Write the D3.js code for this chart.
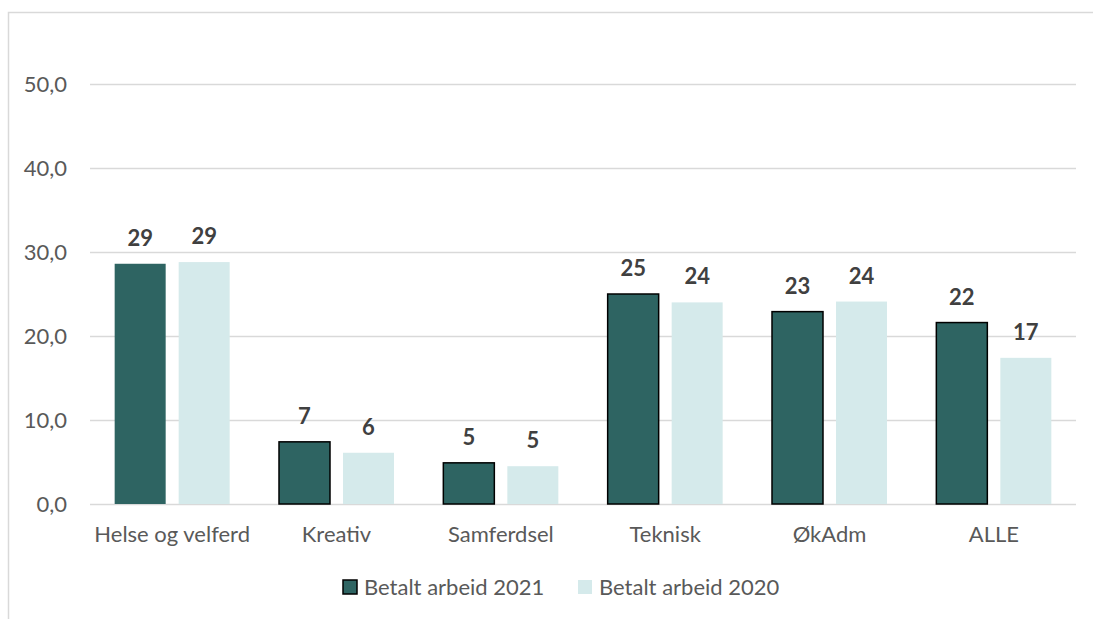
<!DOCTYPE html>
<html>
<head>
<meta charset="utf-8">
<script src="https://cdn.jsdelivr.net/npm/d3@7"></script>
<style>
  html, body { margin: 0; padding: 0; background: #fff; }
  svg { display: block; font-family: Lato, "Liberation Sans", sans-serif; }
</style>
</head>
<body>
<svg id="chart" width="1093" height="619"></svg>
<script>
const categories = ["Helse og velferd", "Kreativ", "Samferdsel", "Teknisk", "ØkAdm", "ALLE"];
const seriesNames = ["Betalt arbeid 2021", "Betalt arbeid 2020"];
const values2021 = [28.6, 7.4, 4.9, 25.0, 22.9, 21.6];
const values2020 = [28.8, 6.1, 4.5, 24.0, 24.1, 17.4];
const yTicks = [0, 10, 20, 30, 40, 50];
const colors = ["#2e6462", "#d5eaeb"];
const strokes = [[false, true, true, true, true, true], [false, false, false, false, false, false]];

const FONT = "Lato, sans-serif";
const FS = 22;

const svg = d3.select("#chart");
const W = 1093, H = 619;
const plot = { left: 90, right: 1076, top: 0, bottom: 504 };

// outer chart border
svg.append("path")
  .attr("d", `M8.5,${H} V12.5 H${W}`)
  .attr("fill", "none").attr("stroke", "#d9d9d9").attr("stroke-width", 1.5);

const x = d3.scaleBand().domain(categories).range([plot.left, plot.right]);
const y = d3.scaleLinear().domain([0, 60]).range([plot.bottom, plot.top]);

// gridlines
svg.append("g").selectAll("line").data(yTicks).join("line")
  .attr("x1", plot.left).attr("x2", plot.right)
  .attr("y1", d => y(d) + 0.5).attr("y2", d => y(d) + 0.5)
  .attr("stroke", "#d9d9d9").attr("stroke-width", 1.5);

// y axis labels
const yAxis = d3.axisLeft(y).tickValues(yTicks).tickSize(0).tickPadding(0)
  .tickFormat(d => d3.format(".1f")(d).replace(".", ","));
const yg = svg.append("g").attr("transform", `translate(${plot.left - 23},0)`).call(yAxis);
yg.select(".domain").remove();
yg.selectAll("text").attr("font-size", FS).attr("fill", "#595959").attr("font-family", FONT).attr("dy", "0.35em");

// x axis labels
const xAxis = d3.axisBottom(x).tickSize(0).tickPadding(0);
const xg = svg.append("g").attr("transform", `translate(0,${plot.bottom + 38})`).call(xAxis);
xg.select(".domain").remove();
xg.selectAll("text").attr("font-size", FS).attr("fill", "#595959").attr("font-family", FONT).attr("dy", 0);

// bars
const barW = 51, gap = 13;
const series = [values2021, values2020];
series.forEach((vals, si) => {
  const g = svg.append("g");
  vals.forEach((v, i) => {
    const cx = x(categories[i]) + x.bandwidth() / 2;
    const x0 = si === 0 ? cx - gap / 2 - barW : cx + gap / 2;
    const rect = g.append("rect")
      .attr("x", x0).attr("width", barW)
      .attr("y", y(v)).attr("height", y(0) - y(v))
      .attr("fill", colors[si]);
    if (strokes[si][i]) rect.attr("stroke", "#000").attr("stroke-width", 1.5);
    g.append("text")
      .attr("x", x0 + barW / 2).attr("y", y(v) - 18)
      .attr("text-anchor", "middle").attr("font-family", FONT)
      .attr("font-size", FS).attr("font-weight", "bold").attr("fill", "#404040")
      .text(d3.format(".0f")(v));
  });
});

// legend
const legendY = 587;
const legendItems = [{ x: 343, name: seriesNames[0], c: colors[0], s: true }, { x: 578, name: seriesNames[1], c: colors[1], s: false }];
legendItems.forEach(it => {
  const r = svg.append("rect").attr("x", it.x).attr("y", legendY - 7).attr("width", 14).attr("height", 14).attr("fill", it.c);
  if (it.s) r.attr("stroke", "#000").attr("stroke-width", 1.5);
  svg.append("text").attr("x", it.x + 21).attr("y", legendY).attr("dy", "0.35em")
    .attr("font-family", FONT).attr("font-size", FS).attr("fill", "#595959").text(it.name);
});
</script>
</body>
</html>
